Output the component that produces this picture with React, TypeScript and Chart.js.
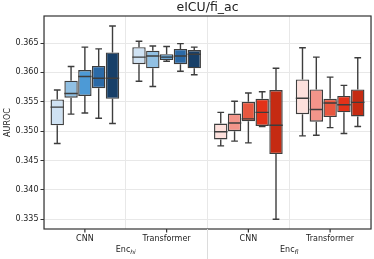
import React, { useEffect, useRef } from "react";
import { Chart, registerables } from "chart.js";

Chart.register(...registerables);

const title = "eICU/fi_ac";
const yTitle = "AUROC";
const categories = ["CNN", "Transformer", "CNN", "Transformer"];
const groupLabels = [
  { main: "Enc", sub: "hi" },
  { main: "Enc", sub: "fl" },
];
const yTicks = [0.335, 0.34, 0.345, 0.35, 0.355, 0.36, 0.365];
const yMin = 0.33335;
const yMax = 0.3696;

// each entry: [whiskerLow, q1, median, q3, whiskerHigh] per category
const series1 = [
  [0.3479, 0.351, 0.3541, 0.3554, 0.357],
  [0.3585, 0.3614, 0.3626, 0.3643, 0.3653],
  [0.3475, 0.3486, 0.3499, 0.3513, 0.3532],
  [0.3492, 0.3529, 0.3556, 0.3588, 0.3642],
];
const series2 = [
  [0.3529, 0.3557, 0.3564, 0.3586, 0.361],
  [0.3576, 0.3607, 0.3628, 0.3637, 0.3645],
  [0.3483, 0.35, 0.3514, 0.353, 0.3551],
  [0.3493, 0.3516, 0.3537, 0.3571, 0.3626],
];
const series3 = [
  [0.3531, 0.356, 0.3593, 0.3604, 0.3643],
  [0.3619, 0.3621, 0.3626, 0.3631, 0.3644],
  [0.348, 0.3517, 0.3521, 0.355, 0.3565],
  [0.3506, 0.3524, 0.3548, 0.3555, 0.3592],
];
const series4 = [
  [0.3522, 0.3573, 0.359, 0.3611, 0.364],
  [0.3602, 0.3614, 0.3628, 0.364, 0.3649],
  [0.3508, 0.3509, 0.3532, 0.3555, 0.3567],
  [0.3496, 0.3532, 0.3545, 0.356, 0.3578],
];
const series5 = [
  [0.3513, 0.3555, 0.359, 0.3634, 0.3679],
  [0.3596, 0.3607, 0.3631, 0.3638, 0.3643],
  [0.335, 0.3461, 0.351, 0.357, 0.3607],
  [0.3508, 0.3525, 0.3549, 0.3571, 0.3625],
];
const allSeries = [series1, series2, series3, series4, series5];

const blues = ["#cfe2f3", "#91c0e3", "#4d9ad6", "#2b6aa7", "#173f68"];
const reds = ["#fde0dc", "#f3958a", "#e8573f", "#e33219", "#c52b12"];
const edge = "#3d3d3d";
const gridColor = "#e8e8e8";
const FONT = "DejaVu Sans";

export default function App() {
  const ref = useRef<HTMLCanvasElement | null>(null);

  useEffect(() => {
    document.body.style.margin = "0";
    const canvas = ref.current;
    if (!canvas) return;

    const boxPlugin = {
      id: "boxExtras",
      afterDatasetsDraw(chart: any) {
        const ctx = chart.ctx;
        const ys = chart.scales.y;
        ctx.save();
        ctx.strokeStyle = edge;
        ctx.lineWidth = 1.4;
        allSeries.forEach((s, i) => {
          const meta = chart.getDatasetMeta(i);
          meta.data.forEach((el: any, j: number) => {
            const [lo, q1, med, q3, hi] = s[j];
            const x = el.x;
            const w = el.width;
            const pLo = ys.getPixelForValue(lo);
            const pQ1 = ys.getPixelForValue(q1);
            const pMed = ys.getPixelForValue(med);
            const pQ3 = ys.getPixelForValue(q3);
            const pHi = ys.getPixelForValue(hi);
            ctx.beginPath();
            ctx.moveTo(x, pQ3);
            ctx.lineTo(x, pHi);
            ctx.moveTo(x, pQ1);
            ctx.lineTo(x, pLo);
            ctx.moveTo(x - w / 4, pHi);
            ctx.lineTo(x + w / 4, pHi);
            ctx.moveTo(x - w / 4, pLo);
            ctx.lineTo(x + w / 4, pLo);
            ctx.moveTo(x - w / 2, pMed);
            ctx.lineTo(x + w / 2, pMed);
            ctx.stroke();
          });
        });
        ctx.restore();
      },
      afterDraw(chart: any) {
        const ctx = chart.ctx;
        const a = chart.chartArea;
        const xs = chart.scales.x;
        ctx.save();
        // frame
        ctx.strokeStyle = "#333333";
        ctx.lineWidth = 1.2;
        ctx.strokeRect(a.left, a.top, a.right - a.left, a.bottom - a.top);
        // x tick marks at centres
        ctx.beginPath();
        categories.forEach((_, i) => {
          const x = xs.getPixelForValue(i);
          ctx.moveTo(x, a.bottom);
          ctx.lineTo(x, a.bottom + 3.5);
        });
        ctx.stroke();
        // separator extension
        const sep = (xs.getPixelForValue(1) + xs.getPixelForValue(2)) / 2;
        ctx.strokeStyle = "#dcdcdc";
        ctx.lineWidth = 1;
        ctx.beginPath();
        ctx.moveTo(sep, a.bottom);
        ctx.lineTo(sep, chart.height);
        ctx.stroke();
        // title
        ctx.fillStyle = "#222";
        ctx.textAlign = "center";
        ctx.textBaseline = "middle";
        ctx.font = `12.5px "${FONT}"`;
        ctx.fillText(title, (a.left + a.right) / 2, 8);
        // y title
        ctx.save();
        ctx.translate(8, (a.top + a.bottom) / 2);
        ctx.rotate(-Math.PI / 2);
        ctx.font = `8px "${FONT}"`;
        ctx.fillText(yTitle, 0, 0);
        ctx.restore();
        // group labels
        groupLabels.forEach((g, gi) => {
          const cx =
            (xs.getPixelForValue(gi * 2) + xs.getPixelForValue(gi * 2 + 1)) / 2;
          ctx.font = `8px "${FONT}"`;
          const wMain = ctx.measureText(g.main).width;
          ctx.font = `italic 6px "${FONT}"`;
          const wSub = ctx.measureText(g.sub).width;
          const start = cx - (wMain + wSub) / 2;
          const y = 250;
          ctx.textAlign = "left";
          ctx.font = `8px "${FONT}"`;
          ctx.fillText(g.main, start, y);
          ctx.font = `italic 6px "${FONT}"`;
          ctx.fillText(g.sub, start + wMain, y + 2);
        });
        ctx.restore();
      },
    };

    const datasets = allSeries.map((s, i) => ({
      label: `s${i + 1}`,
      data: s.map((b) => [b[1], b[3]]),
      backgroundColor: categories.map((_, j) => (j < 2 ? blues[i] : reds[i])),
      borderColor: edge,
      borderWidth: 1.4,
      borderSkipped: false as const,
      categoryPercentage: 0.845,
      barPercentage: 0.97,
    }));

    const chart = new Chart(canvas, {
      type: "bar",
      data: { labels: categories, datasets: datasets as any },
      options: {
        responsive: false,
        animation: false,
        events: [],
        layout: { padding: { top: 16, right: 3, left: 0, bottom: 0 } },
        plugins: {
          legend: { display: false },
          tooltip: { enabled: false },
          title: { display: false },
        },
        scales: {
          x: {
            type: "category",
            offset: true,
            grid: {
              offset: true,
              color: gridColor,
              drawTicks: false,
              lineWidth: 1,
            },
            border: { display: false },
            ticks: {
              color: "#222",
              font: { family: FONT, size: 8 },
              padding: 5,
              maxRotation: 0,
              autoSkip: false,
            },
            afterFit(scale: any) {
              scale.height = 30;
            },
          },
          y: {
            type: "linear",
            min: yMin,
            max: yMax,
            grid: {
              color: gridColor,
              tickColor: "#333333",
              tickLength: 3.5,
              drawTicks: true,
            },
            border: { display: false },
            ticks: {
              color: "#222",
              font: { family: FONT, size: 8 },
              padding: 2,
              callback: (v: any) => Number(v).toFixed(3),
            },
            afterBuildTicks(scale: any) {
              scale.ticks = yTicks.map((v) => ({ value: v }));
            },
            afterFit(scale: any) {
              scale.width = 44;
            },
          },
        },
      },
      plugins: [boxPlugin],
    });

    return () => chart.destroy();
  }, []);

  return (
    <div style={{ width: 374, height: 259 }}>
      <canvas ref={ref} width={374} height={259} style={{ display: "block" }} />
    </div>
  );
}
